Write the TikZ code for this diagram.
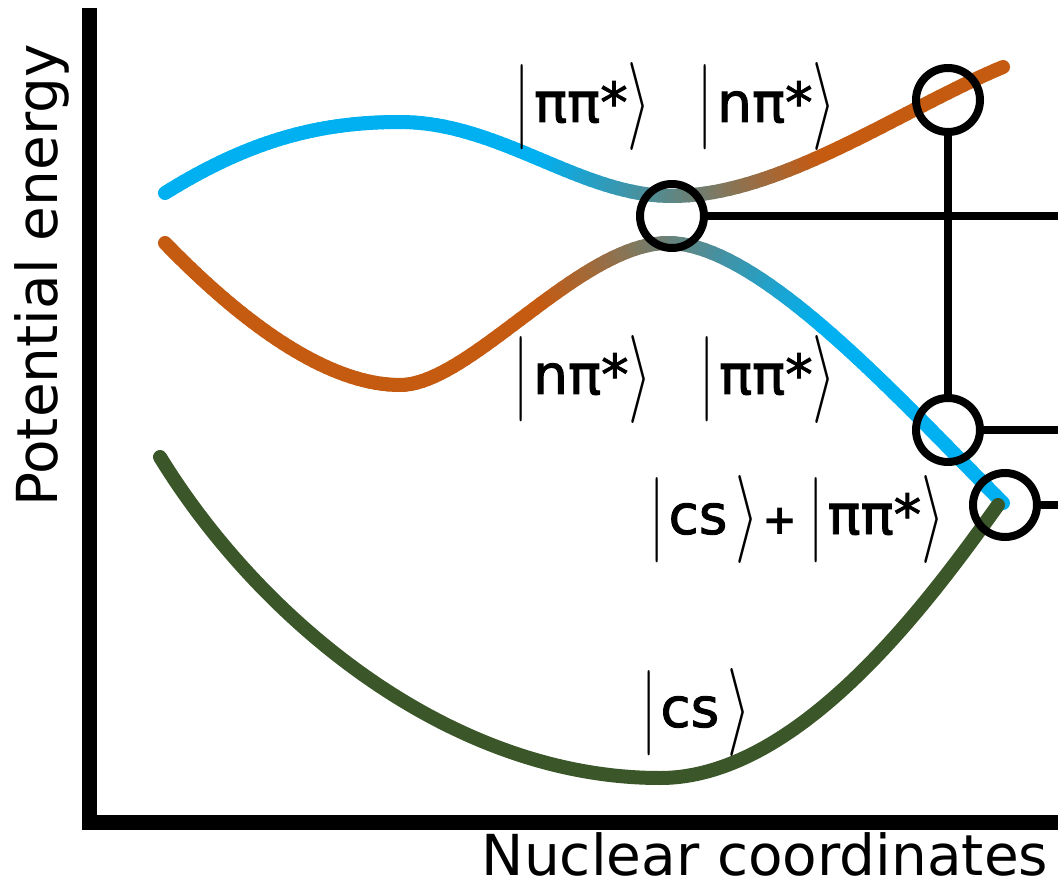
\RequirePackage{fix-cm}
\documentclass[tikz,border=0pt]{standalone}
\usepackage{fontspec}
\setmainfont{DejaVu Sans}
\newfontface\ketfont{DejaVu Sans}[FakeBold=1.6]
\newfontface\plusfont{DejaVu Sans Bold}
\usepackage{graphicx}
\definecolor{cblue}{HTML}{00B0F0}
\definecolor{corange}{HTML}{C55A11}
\definecolor{cgreen}{HTML}{3B5628}
\newdimen\segx
\newcommand{\gradpiece}[6]{%
  \foreach \i in {0,...,39}{%
    \pgfmathsetmacro\ta{\i/40}%
    \pgfmathsetmacro\tb{(\i+1)/40}%
    \path #1 .. controls #2 and #3 .. #4 coordinate[pos=\ta] (gs) coordinate[pos=\tb] (ge);%
    \pgfextractx{\segx}{\pgfpointanchor{gs}{center}}%
    \pgfmathsetmacro\fr{min(100,max(0,(\segx-540)/2.8))}%
    \draw[pes, color=#6!\fr!#5] (gs) -- (ge);%
  }}
\newcommand{\kbar}{\raisebox{-7pt}{\scalebox{1}[1.55]{$|$}}}
\newcommand{\kang}{\raisebox{-7pt}{\scalebox{1.1}[1.6]{$\rangle$}}}
\newcommand{\kplus}{{\fontsize{42}{50}\plusfont +}}
\begin{document}
\begin{tikzpicture}[x=1pt,y=-1pt,
  pes/.style={line width=14pt, line cap=round},
  ring/.style={circle, draw=black, line width=8pt, minimum size=64pt, inner sep=0pt},
  link/.style={draw=black, line width=8pt},
  axis/.style={draw=black, line width=15pt, line join=miter},
  ket/.style={font=\fontsize{55}{64}\ketfont, inner sep=0pt},
  axlab/.style={font=\fontsize{56.5}{68}\selectfont, inner sep=0pt}]
\useasboundingbox (0,0) rectangle (1058,885);
% axes
\coordinate (atop) at (89.5,8);
\coordinate (aorig) at (89.5,822);
\coordinate (aright) at (1058,822);
\draw[axis] (atop) -- (aorig) -- (aright);
\node[axlab, rotate=90, anchor=base] (ylab) at (57,275.5) {Potential energy};
\node[axlab, anchor=base] (xlab) at (765,875) {Nuclear coordinates};
% upper curve: blue -> orange
\gradpiece{(165,193)}{(250,140)}{(320,122)}{(400,122)}{cblue}{corange}
\gradpiece{(400,122)}{(500,122)}{(580,196)}{(672,196)}{cblue}{corange}
\gradpiece{(672,196)}{(780,196)}{(900,110)}{(1003,67)}{cblue}{corange}
% lower curve: orange -> blue
\gradpiece{(165,243)}{(230,310)}{(320,385)}{(400,385)}{corange}{cblue}
\gradpiece{(400,385)}{(470,385)}{(580,243)}{(668,243)}{corange}{cblue}
\gradpiece{(668,243)}{(760,243)}{(900,400)}{(1003,503)}{corange}{cblue}
% ground state
\draw[pes, cgreen] (160,457) .. controls (260,620) and (450,778) .. (660,778)
  .. controls (800,778) and (930,600) .. (998,505);
% crossing markers
\node[ring] (c1) at (672,216) {};
\node[ring] (c2) at (948,100) {};
\node[ring] (c3) at (948,430) {};
\node[ring] (c4) at (1005,505) {};
\coordinate (e1) at (1058,216);
\coordinate (e3) at (1058,430);
\coordinate (e4) at (1058,505);
\draw[link] (c1) -- (e1);
\draw[link] (c2) -- (c3);
\draw[link] (c3) -- (e3);
\draw[link] (c4) -- (e4);
% labels
\node[ket] (k1) at (583,107) {\kbar\hspace{4pt}ππ*\kang};
\node[ket] (k2) at (767,107) {\kbar\hspace{4pt}nπ*\kang};
\node[ket] (k3) at (583,379) {\kbar\hspace{4pt}nπ*\kang};
\node[ket] (k4) at (768,379) {\kbar\hspace{4pt}ππ*\kang};
\node[ket] (k5) at (797,519) {\kbar\hspace{4pt}cs\hspace{8pt}\kang\hspace{4pt}\kplus\hspace{10pt}\kbar\hspace{4pt}ππ*\kang};
\node[ket] (k6) at (696,712) {\kbar\hspace{4pt}cs\hspace{8pt}\kang};
\end{tikzpicture}
\end{document}
